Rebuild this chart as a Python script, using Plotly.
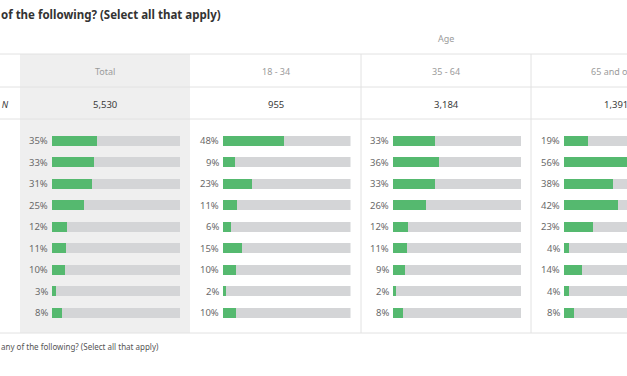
import plotly.graph_objects as go

W, H = 627, 376

columns = ["Total", "18 - 34", "35 - 64", "65 and over"]
n_values = ["5,530", "955", "3,184", "1,391"]
total = [35, 33, 31, 25, 12, 11, 10, 3, 8]
age_18_34 = [48, 9, 23, 11, 6, 15, 10, 2, 10]
age_35_64 = [33, 36, 33, 26, 12, 11, 9, 2, 8]
age_65_plus = [19, 56, 38, 42, 23, 4, 14, 4, 8]
series = [total, age_18_34, age_35_64, age_65_plus]

title_text = "of the following? (Select all that apply)"
footer_text = "any of the following? (Select all that apply)"
group_label = "Age"
n_label = "Total N"

GREEN = "#55b96f"
TRACK = "#d4d5d7"
LINE = "#e2e2e2"
FONT = "Noto Sans"

# layout (pixels)
bar_left = [52, 222.5, 393, 564]
bar_span = 128
col_edges = [20, 190, 361, 531, 701]
row0, row_step = 140.8, 21.5
rows = list(range(len(total)))

def px(x):
    return x / W

def py(y):
    return 1 - y / H

fig = go.Figure()
annotations = []
for k, vals in enumerate(series):
    ax = "x" if k == 0 else f"x{k+1}"
    fig.add_trace(go.Bar(x=[100] * len(vals), y=rows, orientation="h",
                         marker=dict(color=TRACK, line_width=0), width=0.47,
                         xaxis=ax, yaxis="y", hoverinfo="skip", showlegend=False))
    fig.add_trace(go.Bar(x=vals, y=rows, orientation="h",
                         marker=dict(color=GREEN, line_width=0), width=0.47,
                         xaxis=ax, yaxis="y", showlegend=False))
    for i, v in zip(rows, vals):
        annotations.append(dict(x=0, y=i, xref=ax, yref="y", text=f"{v}%",
                                xanchor="right", yanchor="middle", xshift=-2,
                                showarrow=False,
                                font=dict(family=FONT, size=9.5, color="#6a6a6a")))

# axes
y_top = -row0 / row_step
y_bot = (H - row0) / row_step
layout_axes = {}
for k in range(4):
    name = "xaxis" if k == 0 else f"xaxis{k+1}"
    x0 = bar_left[k]
    x1 = min(x0 + bar_span, W)
    rng_hi = 100 * (x1 - x0) / bar_span
    layout_axes[name] = dict(domain=[px(x0), px(x1)], range=[0, rng_hi],
                             visible=False, fixedrange=True, anchor="y")
layout_axes["yaxis"] = dict(domain=[0, 1], range=[y_bot, y_top], visible=False,
                            fixedrange=True)

shapes = []
# Total column background
shapes.append(dict(type="rect", xref="paper", yref="paper",
                   x0=px(col_edges[0]), x1=px(col_edges[1]), y0=py(333), y1=py(54),
                   fillcolor="#efefef", line_width=0, layer="below"))
for yy in [54, 87, 119, 333]:
    shapes.append(dict(type="line", xref="paper", yref="paper", x0=0, x1=1,
                       y0=py(yy), y1=py(yy), line=dict(color=LINE, width=1), layer="below"))
for xx in col_edges[2:4]:
    shapes.append(dict(type="line", xref="paper", yref="paper", x0=px(xx), x1=px(xx),
                       y0=py(54), y1=py(333), line=dict(color=LINE, width=1), layer="below"))

# header texts
for k, name in enumerate(columns):
    cx = (col_edges[k] + col_edges[k + 1]) / 2
    annotations.append(dict(x=px(cx), y=py(71), xref="paper", yref="paper", text=name,
                            showarrow=False, xanchor="center", yanchor="middle",
                            font=dict(family=FONT, size=9, color="#9b9b9b")))
    annotations.append(dict(x=px(cx), y=py(104), xref="paper", yref="paper", text=n_values[k],
                            showarrow=False, xanchor="center", yanchor="middle",
                            font=dict(family=FONT, size=9.5, color="#3a3a3a")))
annotations.append(dict(x=px((col_edges[1] + col_edges[4]) / 2), y=py(39), xref="paper", yref="paper",
                        text=group_label, showarrow=False, xanchor="center", yanchor="middle",
                        font=dict(family=FONT, size=9, color="#9b9b9b")))
annotations.append(dict(x=px(11), y=py(104), xref="paper", yref="paper",
                        text=f"<i>{n_label}</i>", showarrow=False, xanchor="right", yanchor="middle",
                        font=dict(family=FONT, size=9, color="#3a3a3a")))
annotations.append(dict(x=px(-1), y=py(14), xref="paper", yref="paper",
                        text=f"<b>{title_text}</b>", showarrow=False, xanchor="left", yanchor="middle",
                        font=dict(family=FONT, size=11.5, color="#333333")))
annotations.append(dict(x=px(-1), y=py(346), xref="paper", yref="paper",
                        text=footer_text, showarrow=False, xanchor="left", yanchor="middle",
                        font=dict(family=FONT, size=8, color="#555555")))

fig.update_layout(width=W, height=H, margin=dict(l=0, r=0, t=0, b=0),
                  paper_bgcolor="white", plot_bgcolor="rgba(0,0,0,0)",
                  barmode="overlay", bargap=0, shapes=shapes, annotations=annotations,
                  **layout_axes)

fig.write_html("out.html", config={"displayModeBar": False},
               post_script="document.body.style.margin='0';document.body.style.overflow='hidden';")
